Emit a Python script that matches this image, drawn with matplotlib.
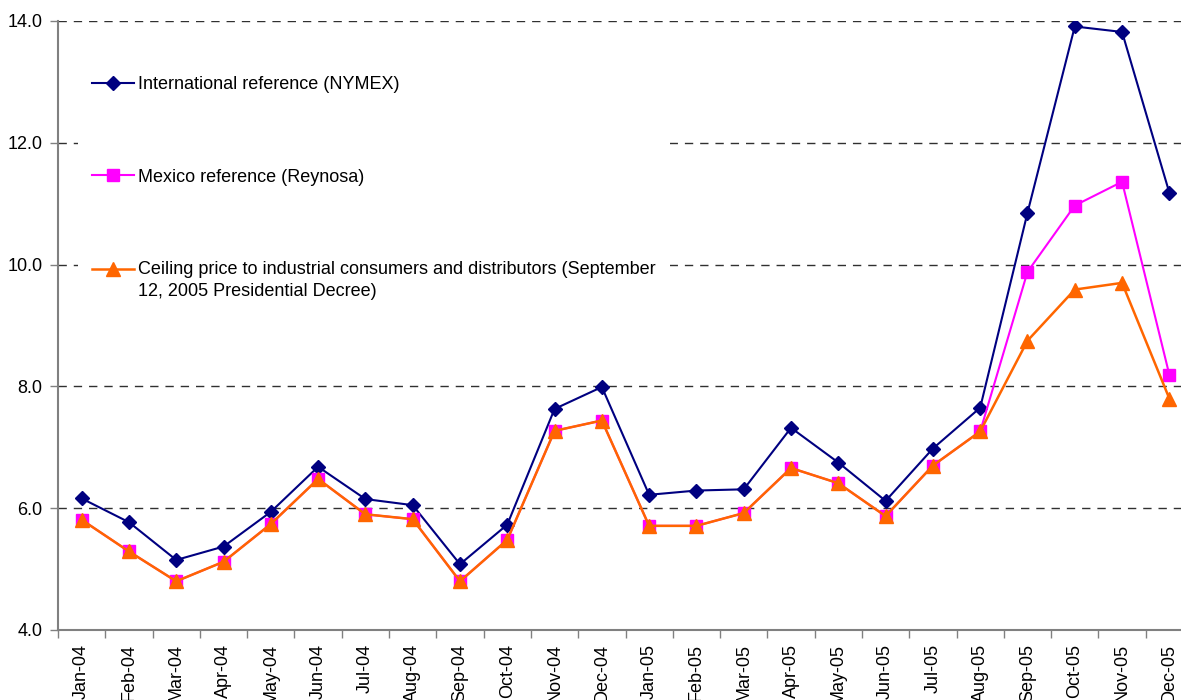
import matplotlib
matplotlib.use("Agg")
import matplotlib.pyplot as plt
from matplotlib.ticker import FixedLocator, NullFormatter
import numpy as np

plt.rcParams['font.family'] = ['Liberation Sans', 'DejaVu Sans']

months = ["Jan-04", "Feb-04", "Mar-04", "Apr-04", "May-04", "Jun-04", "Jul-04", "Aug-04",
          "Sep-04", "Oct-04", "Nov-04", "Dec-04", "Jan-05", "Feb-05", "Mar-05", "Apr-05",
          "May-05", "Jun-05", "Jul-05", "Aug-05", "Sep-05", "Oct-05", "Nov-05", "Dec-05"]

nymex = [6.16, 5.77, 5.15, 5.37, 5.94, 6.68, 6.15, 6.05, 5.08, 5.73, 7.63, 7.99,
         6.22, 6.29, 6.31, 7.32, 6.75, 6.12, 6.98, 7.65, 10.85, 13.91, 13.82, 11.18]
reynosa = [5.81, 5.29, 4.80, 5.12, 5.74, 6.48, 5.90, 5.82, 4.80, 5.48, 7.27, 7.44,
           5.71, 5.71, 5.92, 6.66, 6.41, 5.87, 6.70, 7.26, 9.88, 10.97, 11.36, 8.19]
ceiling = [5.81, 5.29, 4.80, 5.12, 5.74, 6.48, 5.90, 5.82, 4.80, 5.48, 7.27, 7.44,
           5.71, 5.71, 5.92, 6.66, 6.41, 5.87, 6.70, 7.26, 8.75, 9.59, 9.70, 7.80]

labels = ["International reference (NYMEX)",
          "Mexico reference (Reynosa)",
          "Ceiling price to industrial consumers and distributors (September\n12, 2005 Presidential Decree)"]

W, H = 1181, 700
fig = plt.figure(figsize=(W / 100, H / 100), dpi=100)
ax = fig.add_axes([58 / W, 1 - 630 / H, 1135 / W, (630 - 21) / H])

x = np.arange(len(months))
ax.plot(x, nymex, color='#000080', lw=1.5, marker='D', ms=7.5, label=labels[0], zorder=3)
ax.plot(x, reynosa, color='#FF00FF', lw=1.5, marker='s', ms=9, label=labels[1], zorder=4)
ax.plot(x, ceiling, color='#FF6600', lw=1.8, marker='^', ms=10, label=labels[2], zorder=5)

ax.set_xlim(-0.5, len(months) - 0.5)
ax.set_ylim(4.0, 14.0)
ax.set_yticks(np.arange(4, 14.01, 2))
ax.set_yticklabels([f"{v:.1f}" for v in np.arange(4, 14.01, 2)], fontsize=13)
ax.yaxis.grid(True, color='#303030', ls=(0, (6, 5)), lw=1)
ax.set_axisbelow(True)

ax.set_xticks(x)
ax.set_xticklabels(months, rotation=90, fontsize=13, va='top')
ax.tick_params(axis='x', which='major', length=0, pad=10)
ax.xaxis.set_minor_locator(FixedLocator(np.arange(-0.5, len(months), 1.0)))
ax.xaxis.set_minor_formatter(NullFormatter())
ax.tick_params(axis='x', which='minor', length=6, color='#808080', width=1)
ax.tick_params(axis='y', length=6, color='#808080', width=1, pad=5)

for s in ['top', 'right']:
    ax.spines[s].set_visible(False)
for s in ['left', 'bottom']:
    ax.spines[s].set_color('#808080')
    ax.spines[s].set_linewidth(1.5)

leg = ax.legend(loc='upper left', bbox_to_anchor=(78 / W, 1 - 62 / H),
                bbox_transform=fig.transFigure, frameon=True, fontsize=13,
                facecolor='white', edgecolor='none', framealpha=1, fancybox=False,
                handlelength=2.3, handletextpad=0.2, labelspacing=4.17, borderpad=0.8,
                borderaxespad=0)
leg.get_texts()[2].set_linespacing(1.35)
# align the third handle with the first line of its two-line label
h3 = leg.legend_handles[2]
h3.set_ydata(np.asarray(h3.get_ydata(), dtype=float) + 8)
leg.set_zorder(2)

fig.savefig("out.png", dpi=100)
